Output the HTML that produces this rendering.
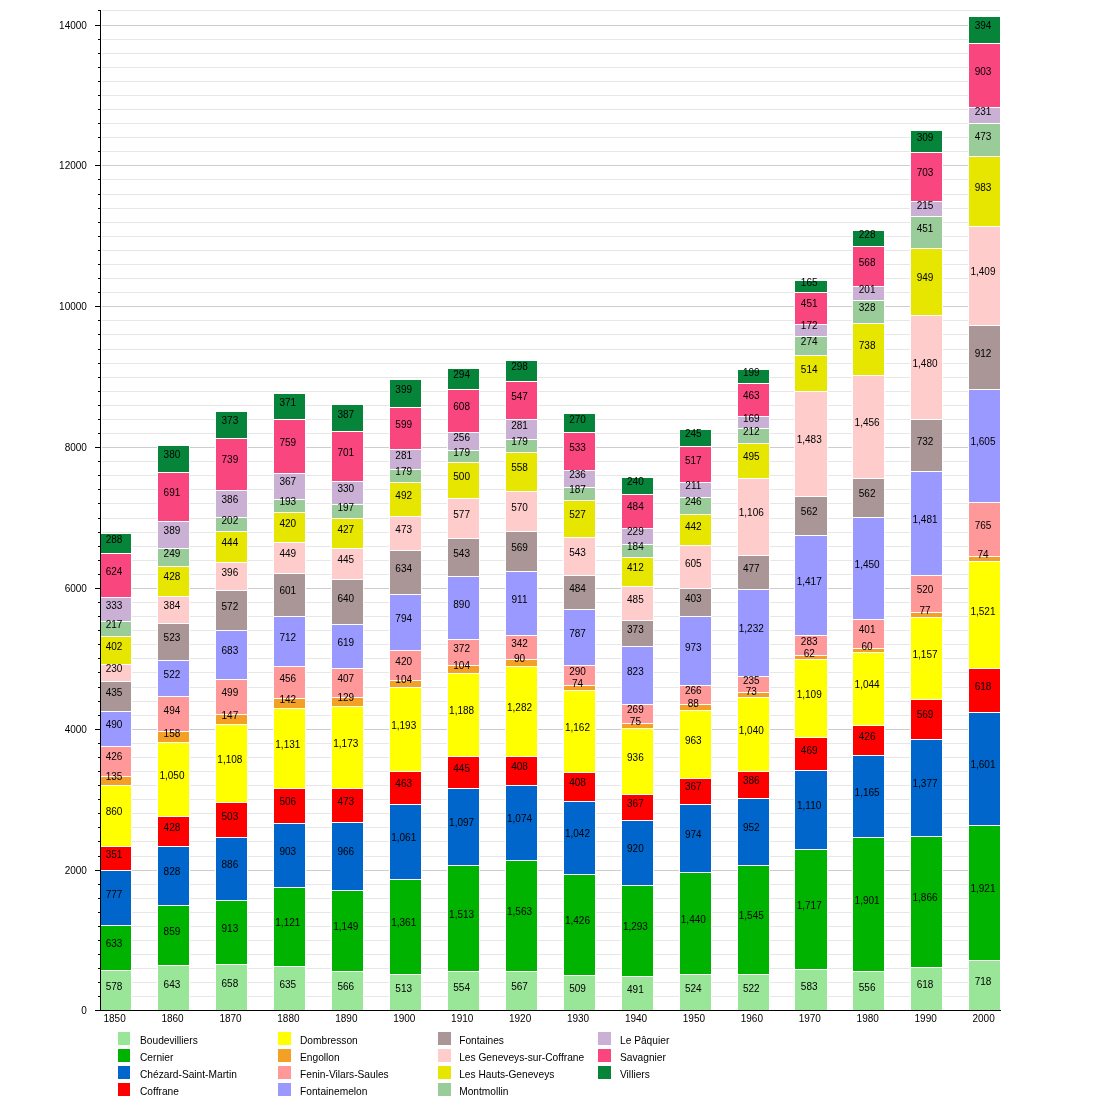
<!DOCTYPE html>
<html><head><meta charset="utf-8"><title>Population chart</title>
<style>html,body{margin:0;padding:0;background:#fff;} body{width:1100px;height:1100px;position:relative;overflow:hidden;font-family:"Liberation Sans",sans-serif;}</style>
</head><body>
<svg width="1100" height="1100" viewBox="0 0 1100 1100" style="position:absolute;left:0;top:0;will-change:transform">
<g stroke="#e7e7e7" stroke-width="1" shape-rendering="crispEdges">
<line x1="102" y1="996.5" x2="1000" y2="996.5"/>
<line x1="102" y1="982.5" x2="1000" y2="982.5"/>
<line x1="102" y1="968.5" x2="1000" y2="968.5"/>
<line x1="102" y1="954.5" x2="1000" y2="954.5"/>
<line x1="102" y1="940.5" x2="1000" y2="940.5"/>
<line x1="102" y1="926.5" x2="1000" y2="926.5"/>
<line x1="102" y1="912.5" x2="1000" y2="912.5"/>
<line x1="102" y1="898.5" x2="1000" y2="898.5"/>
<line x1="102" y1="884.5" x2="1000" y2="884.5"/>
<line x1="102" y1="856.5" x2="1000" y2="856.5"/>
<line x1="102" y1="841.5" x2="1000" y2="841.5"/>
<line x1="102" y1="827.5" x2="1000" y2="827.5"/>
<line x1="102" y1="813.5" x2="1000" y2="813.5"/>
<line x1="102" y1="799.5" x2="1000" y2="799.5"/>
<line x1="102" y1="785.5" x2="1000" y2="785.5"/>
<line x1="102" y1="771.5" x2="1000" y2="771.5"/>
<line x1="102" y1="757.5" x2="1000" y2="757.5"/>
<line x1="102" y1="743.5" x2="1000" y2="743.5"/>
<line x1="102" y1="715.5" x2="1000" y2="715.5"/>
<line x1="102" y1="701.5" x2="1000" y2="701.5"/>
<line x1="102" y1="687.5" x2="1000" y2="687.5"/>
<line x1="102" y1="672.5" x2="1000" y2="672.5"/>
<line x1="102" y1="658.5" x2="1000" y2="658.5"/>
<line x1="102" y1="644.5" x2="1000" y2="644.5"/>
<line x1="102" y1="630.5" x2="1000" y2="630.5"/>
<line x1="102" y1="616.5" x2="1000" y2="616.5"/>
<line x1="102" y1="602.5" x2="1000" y2="602.5"/>
<line x1="102" y1="574.5" x2="1000" y2="574.5"/>
<line x1="102" y1="560.5" x2="1000" y2="560.5"/>
<line x1="102" y1="546.5" x2="1000" y2="546.5"/>
<line x1="102" y1="532.5" x2="1000" y2="532.5"/>
<line x1="102" y1="518.5" x2="1000" y2="518.5"/>
<line x1="102" y1="503.5" x2="1000" y2="503.5"/>
<line x1="102" y1="489.5" x2="1000" y2="489.5"/>
<line x1="102" y1="475.5" x2="1000" y2="475.5"/>
<line x1="102" y1="461.5" x2="1000" y2="461.5"/>
<line x1="102" y1="433.5" x2="1000" y2="433.5"/>
<line x1="102" y1="419.5" x2="1000" y2="419.5"/>
<line x1="102" y1="405.5" x2="1000" y2="405.5"/>
<line x1="102" y1="391.5" x2="1000" y2="391.5"/>
<line x1="102" y1="377.5" x2="1000" y2="377.5"/>
<line x1="102" y1="363.5" x2="1000" y2="363.5"/>
<line x1="102" y1="349.5" x2="1000" y2="349.5"/>
<line x1="102" y1="334.5" x2="1000" y2="334.5"/>
<line x1="102" y1="320.5" x2="1000" y2="320.5"/>
<line x1="102" y1="292.5" x2="1000" y2="292.5"/>
<line x1="102" y1="278.5" x2="1000" y2="278.5"/>
<line x1="102" y1="264.5" x2="1000" y2="264.5"/>
<line x1="102" y1="250.5" x2="1000" y2="250.5"/>
<line x1="102" y1="236.5" x2="1000" y2="236.5"/>
<line x1="102" y1="222.5" x2="1000" y2="222.5"/>
<line x1="102" y1="208.5" x2="1000" y2="208.5"/>
<line x1="102" y1="194.5" x2="1000" y2="194.5"/>
<line x1="102" y1="179.5" x2="1000" y2="179.5"/>
<line x1="102" y1="151.5" x2="1000" y2="151.5"/>
<line x1="102" y1="137.5" x2="1000" y2="137.5"/>
<line x1="102" y1="123.5" x2="1000" y2="123.5"/>
<line x1="102" y1="109.5" x2="1000" y2="109.5"/>
<line x1="102" y1="95.5" x2="1000" y2="95.5"/>
<line x1="102" y1="81.5" x2="1000" y2="81.5"/>
<line x1="102" y1="67.5" x2="1000" y2="67.5"/>
<line x1="102" y1="53.5" x2="1000" y2="53.5"/>
<line x1="102" y1="39.5" x2="1000" y2="39.5"/>
<line x1="102" y1="10.5" x2="1000" y2="10.5"/>
</g>
<g stroke="#cdcdcd" stroke-width="1" shape-rendering="crispEdges">
<line x1="102" y1="870.5" x2="1000" y2="870.5"/>
<line x1="102" y1="729.5" x2="1000" y2="729.5"/>
<line x1="102" y1="588.5" x2="1000" y2="588.5"/>
<line x1="102" y1="447.5" x2="1000" y2="447.5"/>
<line x1="102" y1="306.5" x2="1000" y2="306.5"/>
<line x1="102" y1="165.5" x2="1000" y2="165.5"/>
<line x1="102" y1="25.5" x2="1000" y2="25.5"/>
</g>
<g shape-rendering="crispEdges">
<rect x="99" y="533" width="33" height="477" fill="#fff"/>
<rect x="100" y="971" width="31" height="39" fill="#99e699"/>
<rect x="100" y="926" width="31" height="44" fill="#00b300"/>
<rect x="100" y="871" width="31" height="54" fill="#0066cc"/>
<rect x="100" y="847" width="31" height="23" fill="#ff0000"/>
<rect x="100" y="786" width="31" height="60" fill="#ffff00"/>
<rect x="100" y="777" width="31" height="8" fill="#f49f26"/>
<rect x="100" y="747" width="31" height="29" fill="#ff9999"/>
<rect x="100" y="712" width="31" height="34" fill="#9999ff"/>
<rect x="100" y="682" width="31" height="29" fill="#aa9696"/>
<rect x="100" y="665" width="31" height="16" fill="#ffcccc"/>
<rect x="100" y="637" width="31" height="27" fill="#e6e600"/>
<rect x="100" y="622" width="31" height="14" fill="#99cc99"/>
<rect x="100" y="598" width="31" height="23" fill="#cab0d4"/>
<rect x="100" y="554" width="31" height="43" fill="#fa467e"/>
<rect x="100" y="534" width="31" height="19" fill="#06843a"/>
<rect x="157" y="445" width="33" height="565" fill="#fff"/>
<rect x="158" y="966" width="31" height="44" fill="#99e699"/>
<rect x="158" y="906" width="31" height="59" fill="#00b300"/>
<rect x="158" y="847" width="31" height="58" fill="#0066cc"/>
<rect x="158" y="817" width="31" height="29" fill="#ff0000"/>
<rect x="158" y="743" width="31" height="73" fill="#ffff00"/>
<rect x="158" y="732" width="31" height="10" fill="#f49f26"/>
<rect x="158" y="697" width="31" height="34" fill="#ff9999"/>
<rect x="158" y="661" width="31" height="35" fill="#9999ff"/>
<rect x="158" y="624" width="31" height="36" fill="#aa9696"/>
<rect x="158" y="597" width="31" height="26" fill="#ffcccc"/>
<rect x="158" y="567" width="31" height="29" fill="#e6e600"/>
<rect x="158" y="549" width="31" height="17" fill="#99cc99"/>
<rect x="158" y="522" width="31" height="26" fill="#cab0d4"/>
<rect x="158" y="473" width="31" height="48" fill="#fa467e"/>
<rect x="158" y="446" width="31" height="26" fill="#06843a"/>
<rect x="215" y="411" width="33" height="599" fill="#fff"/>
<rect x="216" y="965" width="31" height="45" fill="#99e699"/>
<rect x="216" y="901" width="31" height="63" fill="#00b300"/>
<rect x="216" y="838" width="31" height="62" fill="#0066cc"/>
<rect x="216" y="803" width="31" height="34" fill="#ff0000"/>
<rect x="216" y="725" width="31" height="77" fill="#ffff00"/>
<rect x="216" y="715" width="31" height="9" fill="#f49f26"/>
<rect x="216" y="680" width="31" height="34" fill="#ff9999"/>
<rect x="216" y="631" width="31" height="48" fill="#9999ff"/>
<rect x="216" y="591" width="31" height="39" fill="#aa9696"/>
<rect x="216" y="563" width="31" height="27" fill="#ffcccc"/>
<rect x="216" y="532" width="31" height="30" fill="#e6e600"/>
<rect x="216" y="518" width="31" height="13" fill="#99cc99"/>
<rect x="216" y="491" width="31" height="26" fill="#cab0d4"/>
<rect x="216" y="439" width="31" height="51" fill="#fa467e"/>
<rect x="216" y="412" width="31" height="26" fill="#06843a"/>
<rect x="273" y="393" width="33" height="617" fill="#fff"/>
<rect x="274" y="967" width="31" height="43" fill="#99e699"/>
<rect x="274" y="888" width="31" height="78" fill="#00b300"/>
<rect x="274" y="824" width="31" height="63" fill="#0066cc"/>
<rect x="274" y="789" width="31" height="34" fill="#ff0000"/>
<rect x="274" y="709" width="31" height="79" fill="#ffff00"/>
<rect x="274" y="699" width="31" height="9" fill="#f49f26"/>
<rect x="274" y="667" width="31" height="31" fill="#ff9999"/>
<rect x="274" y="617" width="31" height="49" fill="#9999ff"/>
<rect x="274" y="574" width="31" height="42" fill="#aa9696"/>
<rect x="274" y="543" width="31" height="30" fill="#ffcccc"/>
<rect x="274" y="513" width="31" height="29" fill="#e6e600"/>
<rect x="274" y="500" width="31" height="12" fill="#99cc99"/>
<rect x="274" y="474" width="31" height="25" fill="#cab0d4"/>
<rect x="274" y="420" width="31" height="53" fill="#fa467e"/>
<rect x="274" y="394" width="31" height="25" fill="#06843a"/>
<rect x="331" y="404" width="33" height="606" fill="#fff"/>
<rect x="332" y="972" width="31" height="38" fill="#99e699"/>
<rect x="332" y="891" width="31" height="80" fill="#00b300"/>
<rect x="332" y="823" width="31" height="67" fill="#0066cc"/>
<rect x="332" y="789" width="31" height="33" fill="#ff0000"/>
<rect x="332" y="707" width="31" height="81" fill="#ffff00"/>
<rect x="332" y="698" width="31" height="8" fill="#f49f26"/>
<rect x="332" y="669" width="31" height="28" fill="#ff9999"/>
<rect x="332" y="625" width="31" height="43" fill="#9999ff"/>
<rect x="332" y="580" width="31" height="44" fill="#aa9696"/>
<rect x="332" y="549" width="31" height="30" fill="#ffcccc"/>
<rect x="332" y="519" width="31" height="29" fill="#e6e600"/>
<rect x="332" y="505" width="31" height="13" fill="#99cc99"/>
<rect x="332" y="482" width="31" height="22" fill="#cab0d4"/>
<rect x="332" y="432" width="31" height="49" fill="#fa467e"/>
<rect x="332" y="405" width="31" height="26" fill="#06843a"/>
<rect x="389" y="379" width="33" height="631" fill="#fff"/>
<rect x="390" y="975" width="31" height="35" fill="#99e699"/>
<rect x="390" y="880" width="31" height="94" fill="#00b300"/>
<rect x="390" y="805" width="31" height="74" fill="#0066cc"/>
<rect x="390" y="772" width="31" height="32" fill="#ff0000"/>
<rect x="390" y="688" width="31" height="83" fill="#ffff00"/>
<rect x="390" y="681" width="31" height="6" fill="#f49f26"/>
<rect x="390" y="651" width="31" height="29" fill="#ff9999"/>
<rect x="390" y="595" width="31" height="55" fill="#9999ff"/>
<rect x="390" y="551" width="31" height="43" fill="#aa9696"/>
<rect x="390" y="517" width="31" height="33" fill="#ffcccc"/>
<rect x="390" y="483" width="31" height="33" fill="#e6e600"/>
<rect x="390" y="470" width="31" height="12" fill="#99cc99"/>
<rect x="390" y="450" width="31" height="19" fill="#cab0d4"/>
<rect x="390" y="408" width="31" height="41" fill="#fa467e"/>
<rect x="390" y="380" width="31" height="27" fill="#06843a"/>
<rect x="447" y="368" width="33" height="642" fill="#fff"/>
<rect x="448" y="972" width="31" height="38" fill="#99e699"/>
<rect x="448" y="866" width="31" height="105" fill="#00b300"/>
<rect x="448" y="789" width="31" height="76" fill="#0066cc"/>
<rect x="448" y="757" width="31" height="31" fill="#ff0000"/>
<rect x="448" y="674" width="31" height="82" fill="#ffff00"/>
<rect x="448" y="666" width="31" height="7" fill="#f49f26"/>
<rect x="448" y="640" width="31" height="25" fill="#ff9999"/>
<rect x="448" y="577" width="31" height="62" fill="#9999ff"/>
<rect x="448" y="539" width="31" height="37" fill="#aa9696"/>
<rect x="448" y="499" width="31" height="39" fill="#ffcccc"/>
<rect x="448" y="463" width="31" height="35" fill="#e6e600"/>
<rect x="448" y="451" width="31" height="11" fill="#99cc99"/>
<rect x="448" y="433" width="31" height="17" fill="#cab0d4"/>
<rect x="448" y="390" width="31" height="42" fill="#fa467e"/>
<rect x="448" y="369" width="31" height="20" fill="#06843a"/>
<rect x="505" y="360" width="33" height="650" fill="#fff"/>
<rect x="506" y="972" width="31" height="38" fill="#99e699"/>
<rect x="506" y="861" width="31" height="110" fill="#00b300"/>
<rect x="506" y="786" width="31" height="74" fill="#0066cc"/>
<rect x="506" y="757" width="31" height="28" fill="#ff0000"/>
<rect x="506" y="667" width="31" height="89" fill="#ffff00"/>
<rect x="506" y="660" width="31" height="6" fill="#f49f26"/>
<rect x="506" y="636" width="31" height="23" fill="#ff9999"/>
<rect x="506" y="572" width="31" height="63" fill="#9999ff"/>
<rect x="506" y="532" width="31" height="39" fill="#aa9696"/>
<rect x="506" y="492" width="31" height="39" fill="#ffcccc"/>
<rect x="506" y="453" width="31" height="38" fill="#e6e600"/>
<rect x="506" y="440" width="31" height="12" fill="#99cc99"/>
<rect x="506" y="420" width="31" height="19" fill="#cab0d4"/>
<rect x="506" y="382" width="31" height="37" fill="#fa467e"/>
<rect x="506" y="361" width="31" height="20" fill="#06843a"/>
<rect x="563" y="413" width="33" height="597" fill="#fff"/>
<rect x="564" y="976" width="31" height="34" fill="#99e699"/>
<rect x="564" y="875" width="31" height="100" fill="#00b300"/>
<rect x="564" y="802" width="31" height="72" fill="#0066cc"/>
<rect x="564" y="773" width="31" height="28" fill="#ff0000"/>
<rect x="564" y="691" width="31" height="81" fill="#ffff00"/>
<rect x="564" y="686" width="31" height="4" fill="#f49f26"/>
<rect x="564" y="666" width="31" height="19" fill="#ff9999"/>
<rect x="564" y="610" width="31" height="55" fill="#9999ff"/>
<rect x="564" y="576" width="31" height="33" fill="#aa9696"/>
<rect x="564" y="538" width="31" height="37" fill="#ffcccc"/>
<rect x="564" y="501" width="31" height="36" fill="#e6e600"/>
<rect x="564" y="488" width="31" height="12" fill="#99cc99"/>
<rect x="564" y="471" width="31" height="16" fill="#cab0d4"/>
<rect x="564" y="433" width="31" height="37" fill="#fa467e"/>
<rect x="564" y="414" width="31" height="18" fill="#06843a"/>
<rect x="621" y="477" width="33" height="533" fill="#fff"/>
<rect x="622" y="977" width="31" height="33" fill="#99e699"/>
<rect x="622" y="886" width="31" height="90" fill="#00b300"/>
<rect x="622" y="821" width="31" height="64" fill="#0066cc"/>
<rect x="622" y="795" width="31" height="25" fill="#ff0000"/>
<rect x="622" y="729" width="31" height="65" fill="#ffff00"/>
<rect x="622" y="724" width="31" height="4" fill="#f49f26"/>
<rect x="622" y="705" width="31" height="18" fill="#ff9999"/>
<rect x="622" y="647" width="31" height="57" fill="#9999ff"/>
<rect x="622" y="621" width="31" height="25" fill="#aa9696"/>
<rect x="622" y="587" width="31" height="33" fill="#ffcccc"/>
<rect x="622" y="558" width="31" height="28" fill="#e6e600"/>
<rect x="622" y="545" width="31" height="12" fill="#99cc99"/>
<rect x="622" y="529" width="31" height="15" fill="#cab0d4"/>
<rect x="622" y="495" width="31" height="33" fill="#fa467e"/>
<rect x="622" y="478" width="31" height="16" fill="#06843a"/>
<rect x="679" y="429" width="33" height="581" fill="#fff"/>
<rect x="680" y="975" width="31" height="35" fill="#99e699"/>
<rect x="680" y="873" width="31" height="101" fill="#00b300"/>
<rect x="680" y="805" width="31" height="67" fill="#0066cc"/>
<rect x="680" y="779" width="31" height="25" fill="#ff0000"/>
<rect x="680" y="711" width="31" height="67" fill="#ffff00"/>
<rect x="680" y="705" width="31" height="5" fill="#f49f26"/>
<rect x="680" y="686" width="31" height="18" fill="#ff9999"/>
<rect x="680" y="617" width="31" height="68" fill="#9999ff"/>
<rect x="680" y="589" width="31" height="27" fill="#aa9696"/>
<rect x="680" y="546" width="31" height="42" fill="#ffcccc"/>
<rect x="680" y="515" width="31" height="30" fill="#e6e600"/>
<rect x="680" y="498" width="31" height="16" fill="#99cc99"/>
<rect x="680" y="483" width="31" height="14" fill="#cab0d4"/>
<rect x="680" y="447" width="31" height="35" fill="#fa467e"/>
<rect x="680" y="430" width="31" height="16" fill="#06843a"/>
<rect x="737" y="369" width="33" height="641" fill="#fff"/>
<rect x="738" y="975" width="31" height="35" fill="#99e699"/>
<rect x="738" y="866" width="31" height="108" fill="#00b300"/>
<rect x="738" y="799" width="31" height="66" fill="#0066cc"/>
<rect x="738" y="772" width="31" height="26" fill="#ff0000"/>
<rect x="738" y="698" width="31" height="73" fill="#ffff00"/>
<rect x="738" y="693" width="31" height="4" fill="#f49f26"/>
<rect x="738" y="677" width="31" height="15" fill="#ff9999"/>
<rect x="738" y="590" width="31" height="86" fill="#9999ff"/>
<rect x="738" y="556" width="31" height="33" fill="#aa9696"/>
<rect x="738" y="479" width="31" height="76" fill="#ffcccc"/>
<rect x="738" y="444" width="31" height="34" fill="#e6e600"/>
<rect x="738" y="429" width="31" height="14" fill="#99cc99"/>
<rect x="738" y="417" width="31" height="11" fill="#cab0d4"/>
<rect x="738" y="384" width="31" height="32" fill="#fa467e"/>
<rect x="738" y="370" width="31" height="13" fill="#06843a"/>
<rect x="794" y="280" width="34" height="730" fill="#fff"/>
<rect x="795" y="970" width="32" height="40" fill="#99e699"/>
<rect x="795" y="850" width="32" height="119" fill="#00b300"/>
<rect x="795" y="771" width="32" height="78" fill="#0066cc"/>
<rect x="795" y="738" width="32" height="32" fill="#ff0000"/>
<rect x="795" y="660" width="32" height="77" fill="#ffff00"/>
<rect x="795" y="656" width="32" height="3" fill="#f49f26"/>
<rect x="795" y="636" width="32" height="19" fill="#ff9999"/>
<rect x="795" y="536" width="32" height="99" fill="#9999ff"/>
<rect x="795" y="497" width="32" height="38" fill="#aa9696"/>
<rect x="795" y="392" width="32" height="104" fill="#ffcccc"/>
<rect x="795" y="356" width="32" height="35" fill="#e6e600"/>
<rect x="795" y="337" width="32" height="18" fill="#99cc99"/>
<rect x="795" y="325" width="32" height="11" fill="#cab0d4"/>
<rect x="795" y="293" width="32" height="31" fill="#fa467e"/>
<rect x="795" y="281" width="32" height="11" fill="#06843a"/>
<rect x="852" y="230" width="33" height="780" fill="#fff"/>
<rect x="853" y="972" width="31" height="38" fill="#99e699"/>
<rect x="853" y="838" width="31" height="133" fill="#00b300"/>
<rect x="853" y="756" width="31" height="81" fill="#0066cc"/>
<rect x="853" y="726" width="31" height="29" fill="#ff0000"/>
<rect x="853" y="653" width="31" height="72" fill="#ffff00"/>
<rect x="853" y="649" width="31" height="3" fill="#f49f26"/>
<rect x="853" y="620" width="31" height="28" fill="#ff9999"/>
<rect x="853" y="518" width="31" height="101" fill="#9999ff"/>
<rect x="853" y="479" width="31" height="38" fill="#aa9696"/>
<rect x="853" y="376" width="31" height="102" fill="#ffcccc"/>
<rect x="853" y="324" width="31" height="51" fill="#e6e600"/>
<rect x="853" y="301" width="31" height="22" fill="#99cc99"/>
<rect x="853" y="287" width="31" height="13" fill="#cab0d4"/>
<rect x="853" y="247" width="31" height="39" fill="#fa467e"/>
<rect x="853" y="231" width="31" height="15" fill="#06843a"/>
<rect x="910" y="130" width="33" height="880" fill="#fff"/>
<rect x="911" y="968" width="31" height="42" fill="#99e699"/>
<rect x="911" y="837" width="31" height="130" fill="#00b300"/>
<rect x="911" y="740" width="31" height="96" fill="#0066cc"/>
<rect x="911" y="700" width="31" height="39" fill="#ff0000"/>
<rect x="911" y="618" width="31" height="81" fill="#ffff00"/>
<rect x="911" y="613" width="31" height="4" fill="#f49f26"/>
<rect x="911" y="576" width="31" height="36" fill="#ff9999"/>
<rect x="911" y="472" width="31" height="103" fill="#9999ff"/>
<rect x="911" y="420" width="31" height="51" fill="#aa9696"/>
<rect x="911" y="316" width="31" height="103" fill="#ffcccc"/>
<rect x="911" y="249" width="31" height="66" fill="#e6e600"/>
<rect x="911" y="217" width="31" height="31" fill="#99cc99"/>
<rect x="911" y="202" width="31" height="14" fill="#cab0d4"/>
<rect x="911" y="153" width="31" height="48" fill="#fa467e"/>
<rect x="911" y="131" width="31" height="21" fill="#06843a"/>
<rect x="968" y="16" width="33" height="994" fill="#fff"/>
<rect x="969" y="961" width="31" height="49" fill="#99e699"/>
<rect x="969" y="826" width="31" height="134" fill="#00b300"/>
<rect x="969" y="713" width="31" height="112" fill="#0066cc"/>
<rect x="969" y="669" width="31" height="43" fill="#ff0000"/>
<rect x="969" y="562" width="31" height="106" fill="#ffff00"/>
<rect x="969" y="557" width="31" height="4" fill="#f49f26"/>
<rect x="969" y="503" width="31" height="53" fill="#ff9999"/>
<rect x="969" y="390" width="31" height="112" fill="#9999ff"/>
<rect x="969" y="326" width="31" height="63" fill="#aa9696"/>
<rect x="969" y="227" width="31" height="98" fill="#ffcccc"/>
<rect x="969" y="157" width="31" height="69" fill="#e6e600"/>
<rect x="969" y="124" width="31" height="32" fill="#99cc99"/>
<rect x="969" y="108" width="31" height="15" fill="#cab0d4"/>
<rect x="969" y="44" width="31" height="63" fill="#fa467e"/>
<rect x="969" y="17" width="31" height="26" fill="#06843a"/>
</g>
<g font-family="Liberation Sans, sans-serif" font-size="10" fill="#000" text-anchor="middle">
<text x="114.03" y="989.90">578</text>
<text x="114.03" y="947.26">633</text>
<text x="114.03" y="897.61">777</text>
<text x="114.03" y="857.89">351</text>
<text x="114.03" y="815.25">860</text>
<text x="114.03" y="780.21">135</text>
<text x="114.03" y="760.46">426</text>
<text x="114.03" y="728.21">490</text>
<text x="114.03" y="695.64">435</text>
<text x="114.03" y="672.22">230</text>
<text x="114.03" y="649.97">402</text>
<text x="114.03" y="628.17">217</text>
<text x="114.03" y="608.81">333</text>
<text x="114.03" y="575.11">624</text>
<text x="114.03" y="543.00">288</text>
<text x="171.96" y="987.61">643</text>
<text x="171.96" y="934.72">859</text>
<text x="171.96" y="875.32">828</text>
<text x="171.96" y="831.10">428</text>
<text x="171.96" y="779.05">1,050</text>
<text x="171.96" y="736.52">158</text>
<text x="171.96" y="713.56">494</text>
<text x="171.96" y="677.79">522</text>
<text x="171.96" y="640.99">523</text>
<text x="171.96" y="609.05">384</text>
<text x="171.96" y="580.46">428</text>
<text x="171.96" y="556.62">249</text>
<text x="171.96" y="534.16">389</text>
<text x="171.96" y="496.13">691</text>
<text x="171.96" y="458.42">380</text>
<text x="229.89" y="987.08">658</text>
<text x="229.89" y="931.76">913</text>
<text x="229.89" y="868.42">886</text>
<text x="229.89" y="819.51">503</text>
<text x="229.89" y="762.79">1,108</text>
<text x="229.89" y="718.60">147</text>
<text x="229.89" y="695.85">499</text>
<text x="229.89" y="654.23">683</text>
<text x="229.89" y="610.04">572</text>
<text x="229.89" y="575.95">396</text>
<text x="229.89" y="546.38">444</text>
<text x="229.89" y="523.63">202</text>
<text x="229.89" y="502.93">386</text>
<text x="229.89" y="463.31">739</text>
<text x="229.89" y="424.16">373</text>
<text x="287.82" y="987.89">635</text>
<text x="287.82" y="926.06">1,121</text>
<text x="287.82" y="854.79">903</text>
<text x="287.82" y="805.18">506</text>
<text x="287.82" y="747.54">1,131</text>
<text x="287.82" y="702.71">142</text>
<text x="287.82" y="681.66">456</text>
<text x="287.82" y="640.53">712</text>
<text x="287.82" y="594.30">601</text>
<text x="287.82" y="557.33">449</text>
<text x="287.82" y="526.73">420</text>
<text x="287.82" y="505.14">193</text>
<text x="287.82" y="485.43">367</text>
<text x="287.82" y="445.78">759</text>
<text x="287.82" y="405.99">371</text>
<text x="345.75" y="990.32">566</text>
<text x="345.75" y="929.93">1,149</text>
<text x="345.75" y="855.46">966</text>
<text x="345.75" y="804.79">473</text>
<text x="345.75" y="746.83">1,173</text>
<text x="345.75" y="700.99">129</text>
<text x="345.75" y="682.12">407</text>
<text x="345.75" y="645.99">619</text>
<text x="345.75" y="601.66">640</text>
<text x="345.75" y="563.45">445</text>
<text x="345.75" y="532.75">427</text>
<text x="345.75" y="510.78">197</text>
<text x="345.75" y="492.22">330</text>
<text x="345.75" y="455.92">701</text>
<text x="345.75" y="417.61">387</text>
<text x="403.69" y="992.19">513</text>
<text x="403.69" y="926.20">1,361</text>
<text x="403.69" y="840.92">1,061</text>
<text x="403.69" y="787.26">463</text>
<text x="403.69" y="728.95">1,193</text>
<text x="403.69" y="683.28">104</text>
<text x="403.69" y="664.83">420</text>
<text x="403.69" y="622.08">794</text>
<text x="403.69" y="571.80">634</text>
<text x="403.69" y="532.82">473</text>
<text x="403.69" y="498.84">492</text>
<text x="403.69" y="475.21">179</text>
<text x="403.69" y="459.02">281</text>
<text x="403.69" y="428.03">599</text>
<text x="403.69" y="392.89">399</text>
<text x="461.62" y="990.74">554</text>
<text x="461.62" y="917.96">1,513</text>
<text x="461.62" y="826.06">1,097</text>
<text x="461.62" y="771.76">445</text>
<text x="461.62" y="714.26">1,188</text>
<text x="461.62" y="668.77">104</text>
<text x="461.62" y="652.01">372</text>
<text x="461.62" y="607.57">890</text>
<text x="461.62" y="557.12">543</text>
<text x="461.62" y="517.68">577</text>
<text x="461.62" y="479.76">500</text>
<text x="461.62" y="455.85">179</text>
<text x="461.62" y="440.53">256</text>
<text x="461.62" y="410.11">608</text>
<text x="461.62" y="378.35">294</text>
<text x="519.55" y="990.29">567</text>
<text x="519.55" y="915.29">1,563</text>
<text x="519.55" y="822.43">1,074</text>
<text x="519.55" y="770.25">408</text>
<text x="519.55" y="710.74">1,282</text>
<text x="519.55" y="662.43">90</text>
<text x="519.55" y="647.22">342</text>
<text x="519.55" y="603.10">911</text>
<text x="519.55" y="550.99">569</text>
<text x="519.55" y="510.88">570</text>
<text x="519.55" y="471.17">558</text>
<text x="519.55" y="445.21">179</text>
<text x="519.55" y="429.02">281</text>
<text x="519.55" y="399.86">547</text>
<text x="519.55" y="370.11">298</text>
<text x="577.48" y="992.33">509</text>
<text x="577.48" y="924.19">1,426</text>
<text x="577.48" y="837.29">1,042</text>
<text x="577.48" y="786.24">408</text>
<text x="577.48" y="730.95">1,162</text>
<text x="577.48" y="687.43">74</text>
<text x="577.48" y="674.62">290</text>
<text x="577.48" y="636.69">787</text>
<text x="577.48" y="591.94">484</text>
<text x="577.48" y="555.78">543</text>
<text x="577.48" y="518.10">527</text>
<text x="577.48" y="492.96">187</text>
<text x="577.48" y="478.07">236</text>
<text x="577.48" y="450.99">533</text>
<text x="577.48" y="422.71">270</text>
<text x="635.40" y="992.96">491</text>
<text x="635.40" y="930.14">1,293</text>
<text x="635.40" y="852.22">920</text>
<text x="635.40" y="806.90">367</text>
<text x="635.40" y="761.02">936</text>
<text x="635.40" y="725.43">75</text>
<text x="635.40" y="713.31">269</text>
<text x="635.40" y="674.86">823</text>
<text x="635.40" y="632.75">373</text>
<text x="635.40" y="602.54">485</text>
<text x="635.40" y="570.95">412</text>
<text x="635.40" y="549.97">184</text>
<text x="635.40" y="535.43">229</text>
<text x="635.40" y="510.32">484</text>
<text x="635.40" y="484.83">240</text>
<text x="693.33" y="991.80">524</text>
<text x="693.33" y="922.64">1,440</text>
<text x="693.33" y="837.64">974</text>
<text x="693.33" y="790.43">367</text>
<text x="693.33" y="743.60">963</text>
<text x="693.33" y="706.59">88</text>
<text x="693.33" y="694.12">266</text>
<text x="693.33" y="650.50">973</text>
<text x="693.33" y="602.05">403</text>
<text x="693.33" y="566.55">605</text>
<text x="693.33" y="529.69">442</text>
<text x="693.33" y="505.46">246</text>
<text x="693.33" y="489.37">211</text>
<text x="693.33" y="463.74">517</text>
<text x="693.33" y="436.90">245</text>
<text x="751.26" y="991.87">522</text>
<text x="751.26" y="919.09">1,545</text>
<text x="751.26" y="831.17">952</text>
<text x="751.26" y="784.05">386</text>
<text x="751.26" y="733.84">1,040</text>
<text x="751.26" y="694.65">73</text>
<text x="751.26" y="683.81">235</text>
<text x="751.26" y="632.15">1,232</text>
<text x="751.26" y="571.98">477</text>
<text x="751.26" y="516.24">1,106</text>
<text x="751.26" y="459.86">495</text>
<text x="751.26" y="434.97">212</text>
<text x="751.26" y="421.55">169</text>
<text x="751.26" y="399.30">463</text>
<text x="751.26" y="375.99">199</text>
<text x="809.19" y="989.72">583</text>
<text x="809.19" y="908.74">1,717</text>
<text x="809.19" y="809.19">1,110</text>
<text x="809.19" y="753.60">469</text>
<text x="809.19" y="698.03">1,109</text>
<text x="809.19" y="656.80">62</text>
<text x="809.19" y="644.65">283</text>
<text x="809.19" y="584.79">1,417</text>
<text x="809.19" y="515.11">562</text>
<text x="809.19" y="443.10">1,483</text>
<text x="809.19" y="372.79">514</text>
<text x="809.19" y="345.04">274</text>
<text x="809.19" y="329.33">172</text>
<text x="809.19" y="307.40">451</text>
<text x="809.19" y="285.71">165</text>
<text x="867.12" y="990.67">556</text>
<text x="867.12" y="904.16">1,901</text>
<text x="867.12" y="796.20">1,165</text>
<text x="867.12" y="740.18">426</text>
<text x="867.12" y="688.42">1,044</text>
<text x="867.12" y="649.55">60</text>
<text x="867.12" y="633.31">401</text>
<text x="867.12" y="568.14">1,450</text>
<text x="867.12" y="497.29">562</text>
<text x="867.12" y="426.24">1,456</text>
<text x="867.12" y="348.98">738</text>
<text x="867.12" y="311.45">328</text>
<text x="867.12" y="292.82">201</text>
<text x="867.12" y="265.74">568</text>
<text x="867.12" y="237.71">228</text>
<text x="925.05" y="988.49">618</text>
<text x="925.05" y="901.02">1,866</text>
<text x="925.05" y="786.83">1,377</text>
<text x="925.05" y="718.31">569</text>
<text x="925.05" y="657.54">1,157</text>
<text x="925.05" y="614.09">77</text>
<text x="925.05" y="593.07">520</text>
<text x="925.05" y="522.61">1,481</text>
<text x="925.05" y="444.69">732</text>
<text x="925.05" y="366.80">1,480</text>
<text x="925.05" y="281.27">949</text>
<text x="925.05" y="231.98">451</text>
<text x="925.05" y="208.52">215</text>
<text x="925.05" y="176.20">703</text>
<text x="925.05" y="140.57">309</text>
<text x="982.99" y="984.97">718</text>
<text x="982.99" y="892.05">1,921</text>
<text x="982.99" y="768.03">1,601</text>
<text x="982.99" y="689.90">618</text>
<text x="982.99" y="614.58">1,521</text>
<text x="982.99" y="558.42">74</text>
<text x="982.99" y="528.88">765</text>
<text x="982.99" y="445.43">1,605</text>
<text x="982.99" y="356.80">912</text>
<text x="982.99" y="275.07">1,409</text>
<text x="982.99" y="190.85">983</text>
<text x="982.99" y="139.58">473</text>
<text x="982.99" y="114.79">231</text>
<text x="982.99" y="74.86">903</text>
<text x="982.99" y="29.19">394</text>
</g>
<g stroke="#000" stroke-width="1" shape-rendering="crispEdges">
<line x1="100.5" y1="10" x2="100.5" y2="1011"/>
<line x1="95" y1="1010.5" x2="1001" y2="1010.5"/>
<line x1="95" y1="1010.5" x2="100" y2="1010.5"/>
<line x1="95" y1="870.5" x2="100" y2="870.5"/>
<line x1="95" y1="729.5" x2="100" y2="729.5"/>
<line x1="95" y1="588.5" x2="100" y2="588.5"/>
<line x1="95" y1="447.5" x2="100" y2="447.5"/>
<line x1="95" y1="306.5" x2="100" y2="306.5"/>
<line x1="95" y1="165.5" x2="100" y2="165.5"/>
<line x1="95" y1="25.5" x2="100" y2="25.5"/>
<line x1="98" y1="996.5" x2="100" y2="996.5"/>
<line x1="98" y1="982.5" x2="100" y2="982.5"/>
<line x1="98" y1="968.5" x2="100" y2="968.5"/>
<line x1="98" y1="954.5" x2="100" y2="954.5"/>
<line x1="98" y1="940.5" x2="100" y2="940.5"/>
<line x1="98" y1="926.5" x2="100" y2="926.5"/>
<line x1="98" y1="912.5" x2="100" y2="912.5"/>
<line x1="98" y1="898.5" x2="100" y2="898.5"/>
<line x1="98" y1="884.5" x2="100" y2="884.5"/>
<line x1="98" y1="856.5" x2="100" y2="856.5"/>
<line x1="98" y1="841.5" x2="100" y2="841.5"/>
<line x1="98" y1="827.5" x2="100" y2="827.5"/>
<line x1="98" y1="813.5" x2="100" y2="813.5"/>
<line x1="98" y1="799.5" x2="100" y2="799.5"/>
<line x1="98" y1="785.5" x2="100" y2="785.5"/>
<line x1="98" y1="771.5" x2="100" y2="771.5"/>
<line x1="98" y1="757.5" x2="100" y2="757.5"/>
<line x1="98" y1="743.5" x2="100" y2="743.5"/>
<line x1="98" y1="715.5" x2="100" y2="715.5"/>
<line x1="98" y1="701.5" x2="100" y2="701.5"/>
<line x1="98" y1="687.5" x2="100" y2="687.5"/>
<line x1="98" y1="672.5" x2="100" y2="672.5"/>
<line x1="98" y1="658.5" x2="100" y2="658.5"/>
<line x1="98" y1="644.5" x2="100" y2="644.5"/>
<line x1="98" y1="630.5" x2="100" y2="630.5"/>
<line x1="98" y1="616.5" x2="100" y2="616.5"/>
<line x1="98" y1="602.5" x2="100" y2="602.5"/>
<line x1="98" y1="574.5" x2="100" y2="574.5"/>
<line x1="98" y1="560.5" x2="100" y2="560.5"/>
<line x1="98" y1="546.5" x2="100" y2="546.5"/>
<line x1="98" y1="532.5" x2="100" y2="532.5"/>
<line x1="98" y1="518.5" x2="100" y2="518.5"/>
<line x1="98" y1="503.5" x2="100" y2="503.5"/>
<line x1="98" y1="489.5" x2="100" y2="489.5"/>
<line x1="98" y1="475.5" x2="100" y2="475.5"/>
<line x1="98" y1="461.5" x2="100" y2="461.5"/>
<line x1="98" y1="433.5" x2="100" y2="433.5"/>
<line x1="98" y1="419.5" x2="100" y2="419.5"/>
<line x1="98" y1="405.5" x2="100" y2="405.5"/>
<line x1="98" y1="391.5" x2="100" y2="391.5"/>
<line x1="98" y1="377.5" x2="100" y2="377.5"/>
<line x1="98" y1="363.5" x2="100" y2="363.5"/>
<line x1="98" y1="349.5" x2="100" y2="349.5"/>
<line x1="98" y1="334.5" x2="100" y2="334.5"/>
<line x1="98" y1="320.5" x2="100" y2="320.5"/>
<line x1="98" y1="292.5" x2="100" y2="292.5"/>
<line x1="98" y1="278.5" x2="100" y2="278.5"/>
<line x1="98" y1="264.5" x2="100" y2="264.5"/>
<line x1="98" y1="250.5" x2="100" y2="250.5"/>
<line x1="98" y1="236.5" x2="100" y2="236.5"/>
<line x1="98" y1="222.5" x2="100" y2="222.5"/>
<line x1="98" y1="208.5" x2="100" y2="208.5"/>
<line x1="98" y1="194.5" x2="100" y2="194.5"/>
<line x1="98" y1="179.5" x2="100" y2="179.5"/>
<line x1="98" y1="151.5" x2="100" y2="151.5"/>
<line x1="98" y1="137.5" x2="100" y2="137.5"/>
<line x1="98" y1="123.5" x2="100" y2="123.5"/>
<line x1="98" y1="109.5" x2="100" y2="109.5"/>
<line x1="98" y1="95.5" x2="100" y2="95.5"/>
<line x1="98" y1="81.5" x2="100" y2="81.5"/>
<line x1="98" y1="67.5" x2="100" y2="67.5"/>
<line x1="98" y1="53.5" x2="100" y2="53.5"/>
<line x1="98" y1="39.5" x2="100" y2="39.5"/>
<line x1="98" y1="10.5" x2="100" y2="10.5"/>
</g>
<g font-family="Liberation Sans, sans-serif" font-size="10" fill="#000" text-anchor="end">
<text x="86.9" y="1014.10">0</text>
<text x="86.9" y="874.10">2000</text>
<text x="86.9" y="733.10">4000</text>
<text x="86.9" y="592.10">6000</text>
<text x="86.9" y="451.10">8000</text>
<text x="86.9" y="310.10">10000</text>
<text x="86.9" y="169.10">12000</text>
<text x="86.9" y="29.10">14000</text>
</g>
<g font-family="Liberation Sans, sans-serif" font-size="10" fill="#000" text-anchor="middle">
<text x="114.63" y="1021.6">1850</text>
<text x="172.56" y="1021.6">1860</text>
<text x="230.50" y="1021.6">1870</text>
<text x="288.43" y="1021.6">1880</text>
<text x="346.36" y="1021.6">1890</text>
<text x="404.29" y="1021.6">1900</text>
<text x="462.22" y="1021.6">1910</text>
<text x="520.14" y="1021.6">1920</text>
<text x="578.07" y="1021.6">1930</text>
<text x="636.00" y="1021.6">1940</text>
<text x="693.93" y="1021.6">1950</text>
<text x="751.86" y="1021.6">1960</text>
<text x="809.79" y="1021.6">1970</text>
<text x="867.72" y="1021.6">1980</text>
<text x="925.65" y="1021.6">1990</text>
<text x="983.58" y="1021.6">2000</text>
</g>
<g font-family="Liberation Sans, sans-serif" font-size="10.2" fill="#000">
<rect x="118" y="1032" width="12" height="13" fill="#99e699" shape-rendering="crispEdges"/>
<text x="140" y="1043.70">Boudevilliers</text>
<rect x="118" y="1049" width="12" height="13" fill="#00b300" shape-rendering="crispEdges"/>
<text x="140" y="1060.80">Cernier</text>
<rect x="118" y="1066" width="12" height="13" fill="#0066cc" shape-rendering="crispEdges"/>
<text x="140" y="1077.90">Chézard-Saint-Martin</text>
<rect x="118" y="1083" width="12" height="13" fill="#ff0000" shape-rendering="crispEdges"/>
<text x="140" y="1095.00">Coffrane</text>
<rect x="278" y="1032" width="13" height="13" fill="#ffff00" shape-rendering="crispEdges"/>
<text x="300" y="1043.70">Dombresson</text>
<rect x="278" y="1049" width="13" height="13" fill="#f49f26" shape-rendering="crispEdges"/>
<text x="300" y="1060.80">Engollon</text>
<rect x="278" y="1066" width="13" height="13" fill="#ff9999" shape-rendering="crispEdges"/>
<text x="300" y="1077.90">Fenin-Vilars-Saules</text>
<rect x="278" y="1083" width="13" height="13" fill="#9999ff" shape-rendering="crispEdges"/>
<text x="300" y="1095.00">Fontainemelon</text>
<rect x="438" y="1032" width="13" height="13" fill="#aa9696" shape-rendering="crispEdges"/>
<text x="459.2" y="1043.70">Fontaines</text>
<rect x="438" y="1049" width="13" height="13" fill="#ffcccc" shape-rendering="crispEdges"/>
<text x="459.2" y="1060.80">Les Geneveys-sur-Coffrane</text>
<rect x="438" y="1066" width="13" height="13" fill="#e6e600" shape-rendering="crispEdges"/>
<text x="459.2" y="1077.90">Les Hauts-Geneveys</text>
<rect x="438" y="1083" width="13" height="13" fill="#99cc99" shape-rendering="crispEdges"/>
<text x="459.2" y="1095.00">Montmollin</text>
<rect x="598" y="1032" width="13" height="13" fill="#cab0d4" shape-rendering="crispEdges"/>
<text x="620" y="1043.70">Le Pâquier</text>
<rect x="598" y="1049" width="13" height="13" fill="#fa467e" shape-rendering="crispEdges"/>
<text x="620" y="1060.80">Savagnier</text>
<rect x="598" y="1066" width="13" height="13" fill="#06843a" shape-rendering="crispEdges"/>
<text x="620" y="1077.90">Villiers</text>
</g>
</svg>
</body></html>
